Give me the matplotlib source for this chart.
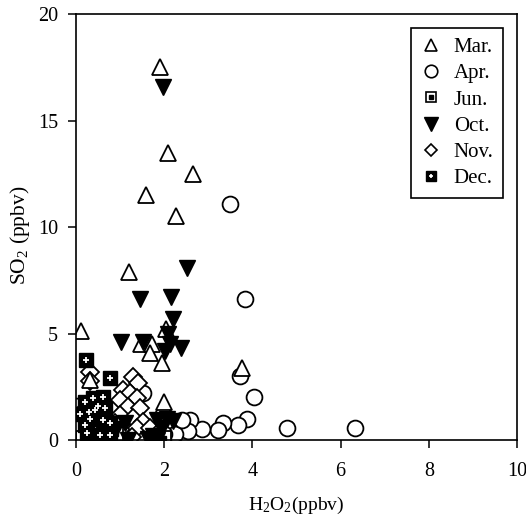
import matplotlib
matplotlib.use("Agg")
import matplotlib.pyplot as plt
from matplotlib.lines import Line2D

plt.rcParams['font.family'] = ['Liberation Serif', 'DejaVu Serif']
plt.rcParams['mathtext.fontset'] = 'custom'
plt.rcParams['mathtext.rm'] = 'Liberation Serif'
plt.rcParams['mathtext.it'] = 'Liberation Serif:italic'

# ---- data (H2O2 ppbv, SO2 ppbv) ----
mar_x = [1.90, 2.09, 2.66, 1.58, 2.26, 1.21, 0.12, 2.03, 1.47, 1.72, 1.68, 1.94, 3.76, 2.00, 0.32]
mar_y = [17.5, 13.5, 12.5, 11.5, 10.5, 7.9, 5.1, 5.2, 4.5, 4.5, 4.1, 3.6, 3.4, 1.8, 2.8]

apr_x = [3.49, 3.83, 3.72, 4.04, 3.87, 3.68, 4.78, 6.33, 3.33, 3.21, 2.85, 2.59, 2.55, 2.24, 2.40, 1.53, 1.97, 0.00, 2.00]
apr_y = [11.1, 6.6, 3.0, 2.0, 1.0, 0.7, 0.55, 0.55, 0.8, 0.45, 0.5, 0.95, 0.4, 0.3, 0.95, 2.2, 1.2, 1.6, 0.3]

jun_x = [0.15, 0.45, 0.70, 0.35, 2.00, 0.90, 0.55]
jun_y = [0.10, 0.05, 0.10, 1.10, 0.10, 0.30, 0.60]

oct_x = [1.98, 2.52, 1.45, 2.15, 2.21, 1.01, 1.53, 2.09, 2.13, 2.02, 2.38, 1.19, 1.64, 1.83, 2.06, 2.20, 1.83, 1.94, 1.75, 0.90, 1.10]
oct_y = [16.6, 8.1, 6.6, 6.7, 5.7, 4.6, 4.6, 5.0, 4.5, 4.2, 4.3, 0.0, 0.05, 0.0, 1.0, 0.9, 0.95, 0.55, 0.2, 0.5, 0.8]

nov_x = [0.32, 0.32, 1.29, 1.41, 1.07, 1.22, 1.38, 1.00, 1.18, 1.45, 1.00, 1.29, 1.52, 1.07, 1.38, 1.68, 1.26, 1.86, 0.88, 0.17]
nov_y = [3.20, 2.75, 2.97, 2.70, 2.35, 2.20, 1.97, 1.88, 1.56, 1.50, 1.17, 1.03, 0.86, 0.62, 0.55, 0.55, 0.16, 0.33, 0.80, 1.40]

dec_x = [0.23, 0.77, 0.20, 0.39, 0.62, 0.32, 0.62, 0.77, 0.24, 0.54, 0.77, 0.20, 0.43, 0.10, 0.50, 0.30, 0.65]
dec_y = [3.75, 2.90, 1.80, 1.95, 2.00, 1.00, 0.94, 0.80, 0.33, 0.23, 0.23, 0.70, 1.40, 1.20, 1.60, 1.30, 1.50]

labels = ['Mar.', 'Apr.', 'Jun.', 'Oct.', 'Nov.', 'Dec.']

fig = plt.figure(figsize=(5.26, 5.26), dpi=100)
ax = fig.add_axes([0.1445, 0.1635, 0.8385, 0.8095])

ms = 12
ax.plot(apr_x, apr_y, 'o', ms=ms*0.95, mfc='white', mec='black', mew=1.3, ls='none')
ax.plot(nov_x, nov_y, 'D', ms=ms*0.75, mfc='white', mec='black', mew=1.3, ls='none')
ax.plot(mar_x, mar_y, '^', ms=ms, mfc='white', mec='black', mew=1.3, ls='none')
ax.plot(jun_x, jun_y, 's', ms=ms*0.8, mfc='white', mec='black', mew=1.3, ls='none')
ax.plot(jun_x, jun_y, 's', ms=ms*0.3, mfc='black', mec='black', ls='none')
ax.plot(oct_x, oct_y, 'v', ms=ms, mfc='black', mec='black', mew=1.0, ls='none')
ax.plot(dec_x, dec_y, 's', ms=ms*0.8, mfc='black', mec='black', mew=1.0, ls='none')
ax.plot(dec_x, dec_y, '+', ms=ms*0.35, mec='white', mew=1.3, ls='none')

ax.set_xlim(0, 10)
ax.set_ylim(0, 20)
ax.set_xticks([0, 2, 4, 6, 8, 10])
ax.set_yticks([0, 5, 10, 15, 20])
ax.tick_params(direction='out', length=6, width=1.1, labelsize=14.5)
ax.tick_params(axis='x', pad=10)
ax.tick_params(axis='y', pad=7)
for s in ax.spines.values():
    s.set_linewidth(1.2)

ax.set_xlabel('H$_2$O$_2$(ppbv)', fontsize=14, labelpad=10)
ax.set_ylabel('SO$_2$ (ppbv)', fontsize=15.5)
ax.yaxis.set_label_coords(-0.10, 0.48)

lms = 9
h_mar = Line2D([], [], marker='^', ls='none', ms=lms, mfc='white', mec='black', mew=1.2)
h_apr = Line2D([], [], marker='o', ls='none', ms=lms, mfc='white', mec='black', mew=1.2)
h_jun = (Line2D([], [], marker='s', ls='none', ms=lms*0.8, mfc='white', mec='black', mew=1.2),
         Line2D([], [], marker='s', ls='none', ms=lms*0.3, mfc='black', mec='black'))
h_oct = Line2D([], [], marker='v', ls='none', ms=lms*1.1, mfc='black', mec='black')
h_nov = Line2D([], [], marker='D', ls='none', ms=lms*0.7, mfc='white', mec='black', mew=1.2)
h_dec = (Line2D([], [], marker='s', ls='none', ms=lms*0.8, mfc='black', mec='black'),
         Line2D([], [], marker='+', ls='none', ms=lms*0.35, mec='white', mew=1.2))

leg = ax.legend([h_mar, h_apr, h_jun, h_oct, h_nov, h_dec], labels,
                loc='upper right', bbox_to_anchor=(0.968, 0.967), borderaxespad=0,
                fancybox=False, edgecolor='black', framealpha=1, fontsize=15,
                labelspacing=0.32, handletextpad=0.6, borderpad=0.45, handlelength=1.0)
leg.get_frame().set_linewidth(1.2)

fig.savefig('out.png', dpi=100)
